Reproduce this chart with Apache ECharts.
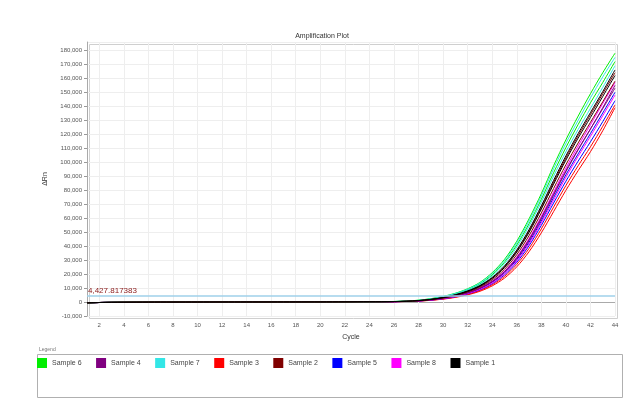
<!DOCTYPE html>
<html>
<head>
<meta charset="utf-8">
<script src="https://cdn.jsdelivr.net/npm/echarts@6/dist/echarts.min.js"></script>
<style>
  html, body { margin: 0; padding: 0; background: #fff; }
  #chart { width: 644px; height: 403px; }
</style>
</head>
<body>
<div id="chart"></div>
<script>
// cycles and tick labels
const cycles = [];
for (let c = 1; c <= 44; c++) cycles.push(c);
const xTicks = [2, 4, 6, 8, 10, 12, 14, 16, 18, 20, 22, 24, 26, 28, 30, 32, 34, 36, 38, 40, 42, 44];
const threshold = 4427.817383;
const thresholdLabel = '4,427.817383';

// legend order (as in the original)
const samples = ['Sample 6', 'Sample 4', 'Sample 7', 'Sample 3', 'Sample 2', 'Sample 5', 'Sample 8', 'Sample 1'];
const sampleColors = ['#00ee00', '#800080', '#33e6e6', '#ff0000', '#800000', '#0000ff', '#ff00ff', '#000000'];

// baseline cycles 1..24 (shared)
const flat = [-600, -350, -200, -120, -80, -50, -30, -20, -10, 0, 10, 20, 20, 30, 30, 40, 40, 50, 60, 70, 90, 110, 140, 180];

// cycles 25..44, two wells per sample
const riseS6a = [250, 400, 700, 1300, 2400, 4000, 6300, 9500, 14000, 21000, 30500, 43500, 59500, 77500, 97500, 116000, 133000, 149000, 164000, 178000];
const riseS6b = [230, 370, 640, 1180, 2170, 3650, 5800, 8800, 13000, 19500, 28500, 40800, 56000, 73500, 92500, 110500, 127000, 142500, 157000, 172000];
const riseS7a = [240, 390, 670, 1240, 2290, 3850, 6100, 9200, 13600, 20400, 29600, 42300, 58000, 75800, 95300, 113500, 130000, 146000, 161000, 175000];
const riseS7b = [220, 350, 610, 1120, 2060, 3480, 5550, 8450, 12500, 18700, 27400, 39300, 54300, 71500, 90000, 107500, 123500, 138500, 153500, 169000];
const riseS1a = [210, 330, 570, 1050, 1920, 3250, 5200, 7950, 11800, 17600, 25800, 37200, 51800, 68800, 87000, 104500, 120500, 135500, 150500, 166000];
const riseS1b = [200, 315, 545, 1000, 1830, 3100, 4950, 7600, 11300, 16800, 24700, 35700, 49800, 66500, 84300, 101500, 117300, 132000, 147000, 162000];
const riseS2a = [205, 325, 560, 1030, 1880, 3180, 5080, 7780, 11550, 17200, 25200, 36400, 50800, 67600, 85600, 103000, 119000, 134000, 149000, 164000];
const riseS2b = [190, 300, 515, 945, 1720, 2920, 4680, 7200, 10700, 15900, 23400, 33900, 47500, 63700, 81200, 98200, 113800, 128500, 143200, 158000];
const riseS4a = [180, 280, 480, 875, 1600, 2700, 4330, 6700, 9950, 14800, 21800, 31700, 44700, 60300, 77300, 94000, 109300, 123800, 138300, 153000];
const riseS4b = [175, 272, 468, 855, 1560, 2640, 4230, 6550, 9750, 14500, 21300, 31100, 43900, 59400, 76400, 93200, 108800, 123700, 139000, 155000];
const riseS8a = [180, 282, 485, 885, 1620, 2740, 4390, 6800, 10100, 15050, 22100, 32200, 45400, 61300, 78600, 95800, 111600, 126800, 142000, 157000];
const riseS8b = [162, 252, 432, 790, 1440, 2440, 3910, 6080, 9080, 13600, 20000, 29300, 41600, 56600, 73000, 89200, 104200, 118500, 133200, 148000];
const riseS5a = [170, 265, 455, 830, 1515, 2570, 4110, 6380, 9500, 14150, 20800, 30300, 42800, 58000, 74700, 91000, 106000, 120500, 135200, 150000];
const riseS5b = [158, 245, 420, 765, 1395, 2370, 3790, 5900, 8800, 13150, 19400, 28400, 40300, 54800, 70800, 86400, 100800, 114600, 129000, 144000];
const riseS3a = [150, 232, 395, 720, 1310, 2220, 3560, 5530, 8280, 12400, 18300, 26900, 38300, 52300, 67900, 83300, 97500, 111000, 125700, 141000];
const riseS3b = [140, 216, 366, 665, 1210, 2050, 3290, 5120, 7680, 11550, 17100, 25200, 36000, 49500, 64700, 79900, 94000, 107500, 122500, 139000];

// draw order: dark wells last so the baseline reads dark
const wells = [
  ['Sample 3', riseS3a], ['Sample 3', riseS3b],
  ['Sample 5', riseS5a], ['Sample 5', riseS5b],
  ['Sample 8', riseS8a], ['Sample 8', riseS8b],
  ['Sample 4', riseS4a], ['Sample 4', riseS4b],
  ['Sample 6', riseS6a], ['Sample 6', riseS6b],
  ['Sample 7', riseS7a], ['Sample 7', riseS7b],
  ['Sample 2', riseS2a], ['Sample 2', riseS2b],
  ['Sample 1', riseS1a], ['Sample 1', riseS1b]
];

const FONT = 'Liberation Sans, Arial, sans-serif';

const series = wells.map(([name, rise]) => {
  const color = sampleColors[samples.indexOf(name)];
  return {
    name: name,
    type: 'line',
    data: cycles.map((c, i) => [c, i < flat.length ? flat[i] : rise[i - flat.length]]),
    showSymbol: false,
    smooth: 0.3,
    lineStyle: { width: 1, color: color },
    itemStyle: { color: color },
    z: 3,
    animation: false
  };
});

// helper series: vertical grid lines at the x ticks (behind the curves)
series.unshift({
  type: 'line',
  data: [],
  z: 1,
  silent: true,
  animation: false,
  markLine: {
    z: 1,
    silent: true,
    symbol: 'none',
    animation: false,
    label: { show: false },
    lineStyle: { color: '#eeeeee', width: 1, type: 'solid' },
    data: xTicks.map(t => ({ xAxis: t }))
  }
});
// threshold line with its value
series.push({
  type: 'line',
  data: [],
  z: 4,
  silent: true,
  animation: false,
  markLine: {
    z: 4,
    silent: true,
    symbol: 'none',
    animation: false,
    lineStyle: { color: '#9fd0ea', width: 1.5, type: 'solid' },
    label: {
      position: 'insideStartTop',
      formatter: thresholdLabel,
      color: '#8b1a1a',
      fontSize: 8,
      fontFamily: FONT,
      distance: 1
    },
    data: [{ yAxis: threshold }]
  }
});

const chart = echarts.init(document.getElementById('chart'));
chart.setOption({
  backgroundColor: '#fff',
  animation: false,
  title: {
    text: 'Amplification Plot',
    left: 'center',
    top: 28,
    textStyle: { fontSize: 7, fontWeight: 'normal', color: '#333', fontFamily: FONT }
  },
  legend: {
    data: samples,
    left: 37,
    top: 358,
    padding: 0,
    icon: 'rect',
    itemWidth: 10,
    itemHeight: 10,
    itemGap: 14.5,
    textStyle: { fontSize: 7, color: '#444', fontFamily: FONT }
  },
  grid: { left: 87, right: 29, top: 42, bottom: 87 },
  xAxis: {
    type: 'value',
    min: 1,
    max: 44,
    name: 'Cycle',
    nameLocation: 'middle',
    nameGap: 18,
    nameTextStyle: { fontSize: 7, color: '#333', fontFamily: FONT },
    axisLine: { lineStyle: { color: '#aaa' } },
    axisTick: { customValues: xTicks, length: 3, lineStyle: { color: '#999' } },
    axisLabel: { customValues: xTicks, fontSize: 6, color: '#555', fontFamily: FONT, margin: 6 },
    splitLine: { show: false }
  },
  yAxis: {
    type: 'value',
    min: -10000,
    max: 186000,
    interval: 10000,
    name: 'ΔRn',
    nameLocation: 'middle',
    nameGap: 38,
    nameTextStyle: { fontSize: 7, color: '#333', fontFamily: FONT },
    axisLine: { show: true, lineStyle: { color: '#aaa' } },
    axisTick: { show: true, length: 3, lineStyle: { color: '#999' } },
    axisLabel: {
      showMaxLabel: false,
      fontSize: 6,
      color: '#555',
      fontFamily: FONT,
      margin: 5,
      formatter: v => (v % 10000 === 0 ? v.toLocaleString('en-US') : '')
    },
    splitLine: { show: true, lineStyle: { color: '#eeeeee', width: 1 } }
  },
  graphic: [
    {
      type: 'rect',
      left: 87, top: 42,
      shape: { width: 528, height: 274 },
      style: { fill: 'none', stroke: '#cfcfcf', lineWidth: 1 },
      silent: true, z: 0
    },
    {
      type: 'rect',
      left: 35, top: 352,
      shape: { width: 585, height: 43 },
      style: { fill: 'none', stroke: '#b0b0b0', lineWidth: 1 },
      silent: true
    },
    {
      type: 'text',
      left: 39, top: 347,
      style: { text: 'Legend', fontSize: 5, fill: '#777', fontFamily: FONT, backgroundColor: '#fff' },
      silent: true
    }
  ],
  series: series
});
</script>
</body>
</html>
